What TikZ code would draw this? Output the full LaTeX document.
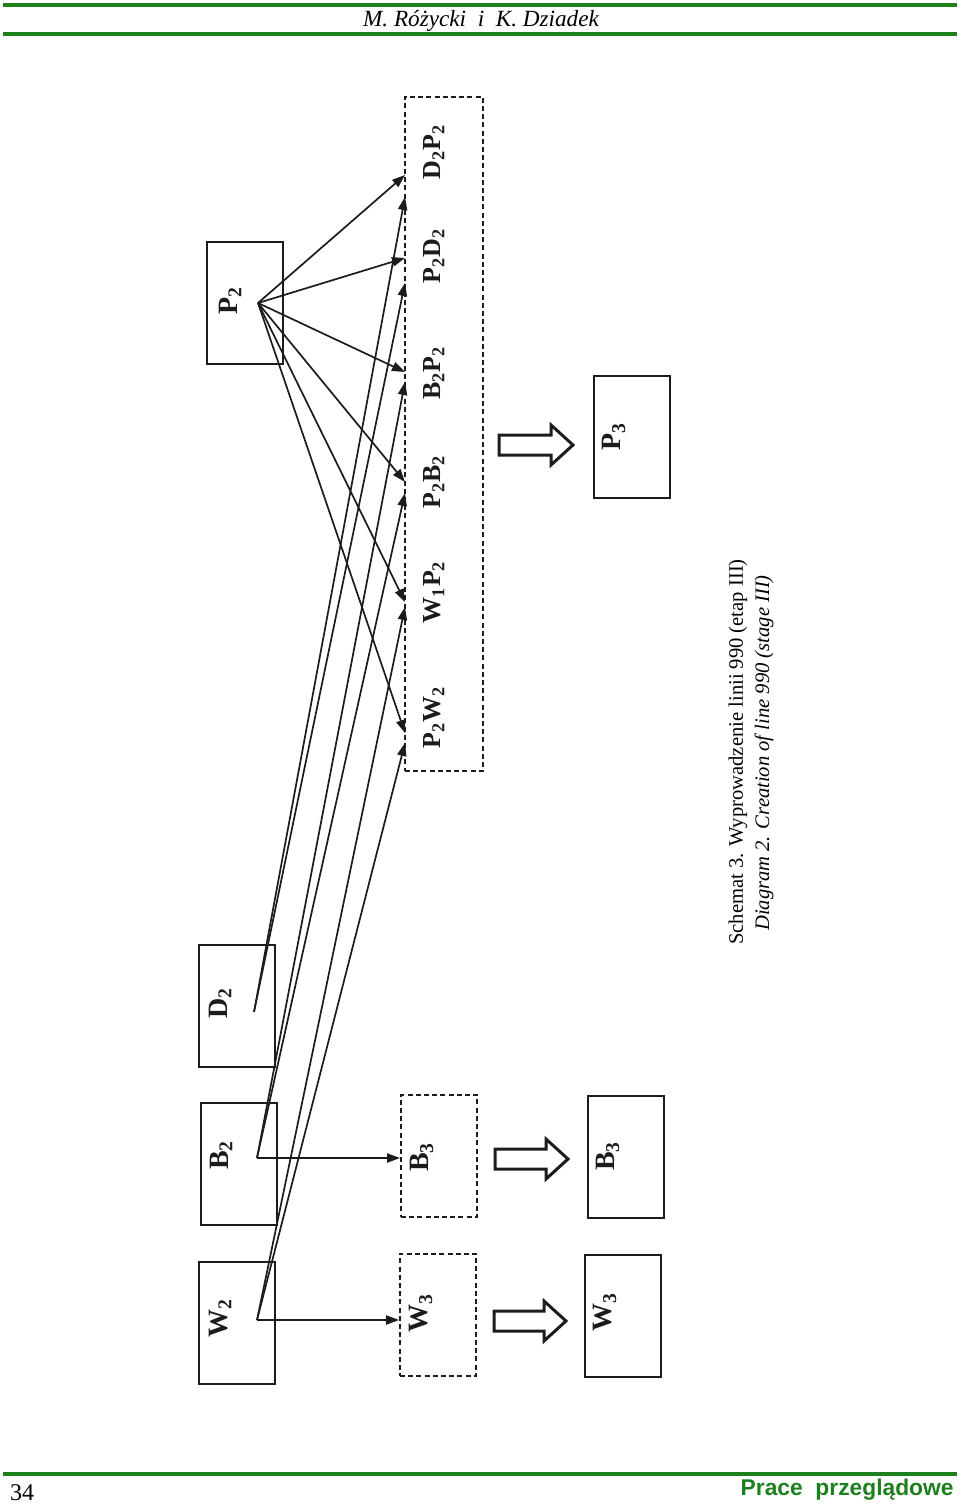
\documentclass[tikz,border=0pt]{standalone}
\usepackage{fontspec}
\setmainfont{Liberation Serif}
\newfontfamily\footsans{Liberation Sans}
\usetikzlibrary{arrows.meta, positioning}
\definecolor{journalGreen}{HTML}{1E7F1E}
\definecolor{scanInk}{HTML}{1C1C1C}
\newcommand{\ix}[2]{\textbf{#1}\textsubscript{\textbf{#2}}}

\begin{document}
\begin{tikzpicture}[x=0.5pt, y=-0.5pt, >={Triangle[length=6.5pt, width=4.6pt]},
    box/.style={draw=scanInk, line width=1pt, minimum width=38pt,
                minimum height=61pt, inner sep=0pt},
    newbox/.style={box, dash pattern=on 2.5pt off 1.6pt},
    lab/.style={rotate=90, font=\fontsize{14}{16}\selectfont, text=scanInk, inner sep=0pt},
    pairlab/.style={lab, font=\fontsize{13}{15}\selectfont},
    link/.style={->, line width=0.85pt, draw=scanInk},
    fatarrow/.style={draw=scanInk, line width=1.5pt, line join=miter},
    rule/.style={draw=journalGreen, line width=1.6pt}]
  \useasboundingbox (0,0) rectangle (960,1508);

  % running head and foot
  \draw[rule] (3,5) -- (957,5);
  \node[font=\itshape\fontsize{11.6}{14}\selectfont] (runhead) at (481,21)
       {M. Różycki \ i \ K. Dziadek};
  \draw[rule] (3,34) -- (957,34);
  \draw[rule] (3,1474) -- (957,1474);
  \node[anchor=west, font=\fontsize{12}{14}\selectfont] (pagenum) at (3,1493) {34};
  \node[anchor=east, inner sep=1pt, text=journalGreen,
        font=\footsans\bfseries\fontsize{11.4}{13}\selectfont]
       (section) at (956,1490) {Prace \ przeglądowe};

  % stage II lines
  \node[box] (p2) at (245,303)    {};
  \node[box] (d2) at (236.5,1006) {};
  \node[box] (b2) at (238.5,1164) {};
  \node[box] (w2) at (237,1322.5) {};
  \node[lab] (lp2) at (230,301)  {\ix{P}{2}};
  \node[lab] (ld2) at (220,1003) {\ix{D}{2}};
  \node[lab] (lb2) at (221,1155) {\ix{B}{2}};
  \node[lab] (lw2) at (220,1318) {\ix{W}{2}};

  % new pairs
  \node[box, newbox, minimum width=39pt, minimum height=337pt] (pairs) at (444,434) {};
  \node[pairlab] (lD2P2) at (434,152) {\ix{D}{2}\ix{P}{2}};
  \node[pairlab] (lP2D2) at (434,256) {\ix{P}{2}\ix{D}{2}};
  \node[pairlab] (lB2P2) at (434,373) {\ix{B}{2}\ix{P}{2}};
  \node[pairlab] (lP2B2) at (434,482) {\ix{P}{2}\ix{B}{2}};
  \node[pairlab] (lW1P2) at (434,592) {\ix{W}{1}\ix{P}{2}};
  \node[pairlab] (lP2W2) at (434,717) {\ix{P}{2}\ix{W}{2}};

  \node[box, newbox] (b3n) at (439,1156)   {};
  \node[box, newbox] (w3n) at (438,1314.5) {};
  \node[lab] (lb3n) at (422,1157) {\ix{B}{3}};
  \node[lab] (lw3n) at (421,1313) {\ix{W}{3}};

  % stage III lines
  \node[box] (p3) at (631.5,436.5) {};
  \node[box] (b3) at (625.5,1157)  {};
  \node[box] (w3) at (622.5,1315.5) {};
  \node[lab] (lp3) at (614,437)  {\ix{P}{3}};
  \node[lab] (lb3) at (608,1156) {\ix{B}{3}};
  \node[lab] (lw3) at (605,1312) {\ix{W}{3}};

  \foreach \x/\y/\s in {499/445/52, 495/1159/51, 494/1321/50} {
    \draw[fatarrow] (\x,\y-10) -- ++(\s,0) -- ++(0,-10) -- ++(22,20)
      -- ++(-22,20) -- ++(0,-10) -- ++(-\s,0) -- cycle;
  }

  % links into the pair box
  \coordinate (sP) at (258,303);
  \coordinate (sD) at (254,1012);
  \coordinate (sB) at (257,1158);
  \coordinate (sW) at (257,1320);
  \foreach \n/\y in {1/175, 2/197, 3/258, 4/283, 5/372, 6/382,
                     7/482, 8/493, 9/602, 10/607, 11/733, 12/743} {
    \coordinate (in\n) at (405,\y);
  }
  \foreach \t in {1,3,5,7,9,11} {
    \draw[link] (sP) -- (in\t);
  }
  \draw[link] (sD) -- (in2);
  \draw[link] (sD) -- (in4);
  \draw[link] (sB) -- (in6);
  \draw[link] (sB) -- (in8);
  \draw[link] (sW) -- (in10);
  \draw[link] (sW) -- (in12);
  \draw[link] (sB) -- (sB -| b3n.west);
  \draw[link] (sW) -- (sW -| w3n.west);

  % caption
  \node[rotate=90, font=\fontsize{10.3}{12}\selectfont] (capPl) at (738,752)
       {Schemat 3. Wyprowadzenie linii 990 (etap III)};
  \node[rotate=90, font=\itshape\fontsize{10.3}{12}\selectfont] (capEn) at (764,753)
       {Diagram 2. Creation of line 990 (stage III)};
\end{tikzpicture}
\end{document}
